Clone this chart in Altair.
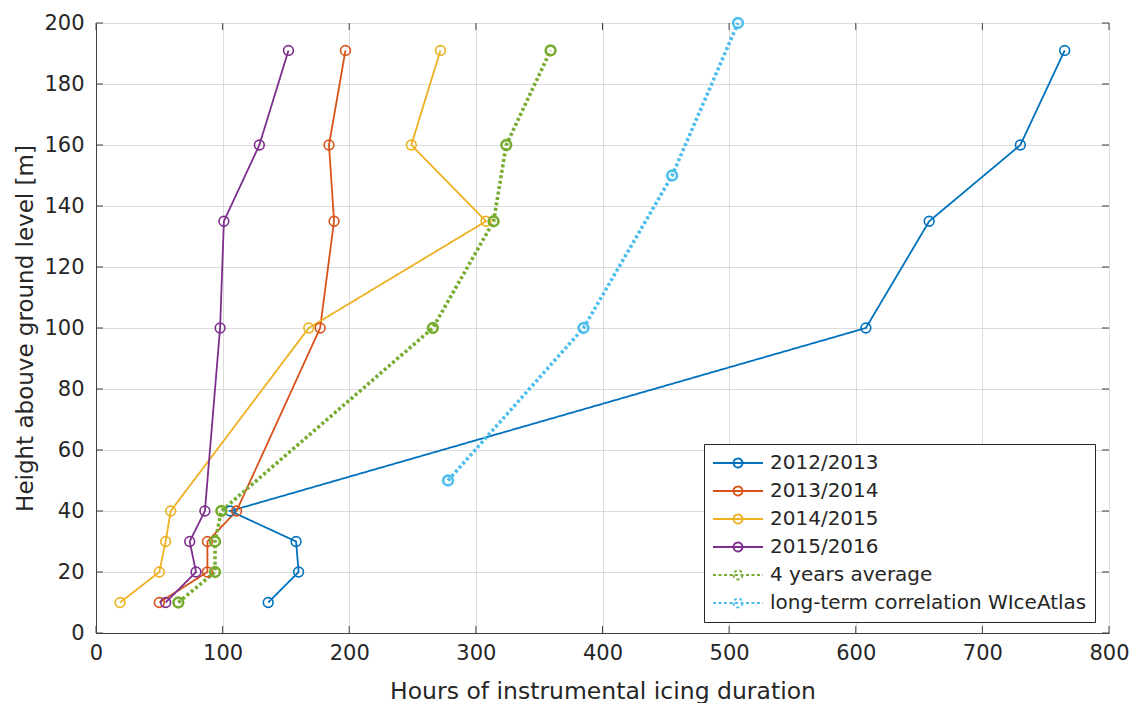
import altair as alt
import pandas as pd

# ---------------- data ----------------
series_names = ["2012/2013", "2013/2014", "2014/2015", "2015/2016",
                "4 years average", "long-term correlation WIceAtlas"]
series_colors = ["#0072BD", "#D95319", "#EDB120", "#7E2F8E", "#77AC30", "#4DBEEE"]

heights_mast = [10, 20, 30, 40, 100, 135, 160, 191]
hours_2012_2013 = [136, 160, 158, 106, 608, 658, 730, 765]
hours_2013_2014 = [50, 88, 88, 111, 177, 188, 184, 197]
hours_2014_2015 = [19, 50, 55, 59, 168, 308, 249, 272]
hours_2015_2016 = [55, 79, 74, 86, 98, 101, 129, 152]
hours_4yr_avg = [65, 94, 94, 99, 266, 314, 324, 359]

heights_wiceatlas = [50, 100, 150, 200]
hours_wiceatlas = [278, 385, 455, 507]

x_ticks = [0, 100, 200, 300, 400, 500, 600, 700, 800]
y_ticks = [0, 20, 40, 60, 80, 100, 120, 140, 160, 180, 200]

series_data = [
    (series_names[0], hours_2012_2013, heights_mast),
    (series_names[1], hours_2013_2014, heights_mast),
    (series_names[2], hours_2014_2015, heights_mast),
    (series_names[3], hours_2015_2016, heights_mast),
    (series_names[4], hours_4yr_avg, heights_mast),
    (series_names[5], hours_wiceatlas, heights_wiceatlas),
]

rows = []
for name, xs, ys in series_data:
    for i, (xv, yv) in enumerate(zip(xs, ys)):
        rows.append({"series": name, "hours": xv, "height": yv, "idx": i})
df = pd.DataFrame(rows)

solid_series = series_names[:4]
dotted_series = series_names[4:]

# ---------------- styles ----------------
FONT = "DejaVu Sans"
TXT = "#262626"
W, H = 1013, 610
TICK = 7

dash_range = [[1, 0], [1, 0], [1, 0], [1, 0], [3, 2.5], [3, 2.5]]

xscale = alt.Scale(domain=[0, 800], nice=False, zero=False)
yscale = alt.Scale(domain=[0, 200], nice=False, zero=False)

color_scale = alt.Scale(domain=series_names, range=series_colors)
dash_scale = alt.Scale(domain=series_names, range=dash_range)

legend_symbol = "M-1,0H1M0.18,0A0.18,0.18,0,1,1,-0.18,0A0.18,0.18,0,1,1,0.18,0"

legend = alt.Legend(
    title=None, orient="none", legendX=608, legendY=421,
    symbolType=legend_symbol, symbolSize=2500, symbolStrokeWidth=1.8,
    labelFontSize=20, labelFont=FONT, labelColor=TXT, labelLimit=600,
    labelOffset=6, padding=8, rowPadding=6, clipHeight=22,
    strokeColor="#262626", fillColor="white", cornerRadius=0,
)

x_axis = alt.Axis(
    values=x_ticks, title="Hours of instrumental icing duration",
    grid=True, ticks=False, labelPadding=9, labelFontSize=21, labelFont=FONT,
    labelColor=TXT, titleFontSize=23.5, titleFont=FONT, titleColor=TXT,
    titleFontWeight="normal", titleY=65, titleBaseline="alphabetic",
    domainColor="#404040", gridColor="#dcdcdc", labelFlush=False,
)
y_axis = alt.Axis(
    values=y_ticks, title="Height abouve ground level [m]",
    grid=True, ticks=False, labelPadding=12, labelFontSize=21, labelFont=FONT,
    labelColor=TXT, titleFontSize=23, titleFont=FONT, titleColor=TXT,
    titleFontWeight="normal", titleX=-71, titleY=H / 2, titleAngle=-90,
    titleBaseline="middle", titleAlign="center",
    domainColor="#404040", gridColor="#dcdcdc", labelFlush=False,
)

base = alt.Chart(df)

def line_layer(names, width):
    return base.transform_filter(
        alt.FieldOneOfPredicate(field="series", oneOf=names)
    ).mark_line(strokeCap="butt", strokeWidth=width).encode(
        x=alt.X("hours:Q", scale=xscale, axis=x_axis),
        y=alt.Y("height:Q", scale=yscale, axis=y_axis),
        color=alt.Color("series:N", scale=color_scale, legend=legend, sort=series_names),
        strokeDash=alt.StrokeDash("series:N", scale=dash_scale, legend=legend, sort=series_names),
        order=alt.Order("idx:Q"),
    )

def point_layer(names, width):
    return base.transform_filter(
        alt.FieldOneOfPredicate(field="series", oneOf=names)
    ).mark_point(filled=False, size=95, opacity=1, strokeWidth=width).encode(
        x=alt.X("hours:Q", scale=xscale, axis=x_axis),
        y=alt.Y("height:Q", scale=yscale, axis=y_axis),
        color=alt.Color("series:N", scale=color_scale, legend=legend, sort=series_names),
    )

lines_solid = line_layer(solid_series, 1.8)
lines_dotted = line_layer(dotted_series, 3.6)
points_solid = point_layer(solid_series, 1.6)
points_dotted = point_layer(dotted_series, 2.6)

xt = alt.Chart(pd.DataFrame({"hours": x_ticks}))
yt = alt.Chart(pd.DataFrame({"height": y_ticks}))
tick_style = dict(color="#404040", strokeWidth=1)

ticks_bottom = xt.mark_rule(**tick_style).encode(
    x=alt.X("hours:Q", scale=xscale, axis=x_axis), y=alt.value(H), y2=alt.value(H - TICK))
ticks_top = xt.mark_rule(**tick_style).encode(
    x=alt.X("hours:Q", scale=xscale, axis=x_axis), y=alt.value(0), y2=alt.value(TICK))
ticks_left = yt.mark_rule(**tick_style).encode(
    y=alt.Y("height:Q", scale=yscale, axis=y_axis), x=alt.value(0), x2=alt.value(TICK))
ticks_right = yt.mark_rule(**tick_style).encode(
    y=alt.Y("height:Q", scale=yscale, axis=y_axis), x=alt.value(W), x2=alt.value(W - TICK))

chart = alt.layer(
    lines_solid, lines_dotted, points_solid, points_dotted,
    ticks_bottom, ticks_top, ticks_left, ticks_right
).properties(
    width=W, height=H,
    autosize=alt.AutoSizeParams(type="none"),
    padding={"left": 88, "top": 15, "right": 20, "bottom": 70},
    background="white",
).configure_view(
    stroke="#404040", strokeWidth=1
).configure_axis(
    domainWidth=1, gridWidth=1
)

chart.save("out.html", embed_options={"renderer": "svg", "actions": False})
